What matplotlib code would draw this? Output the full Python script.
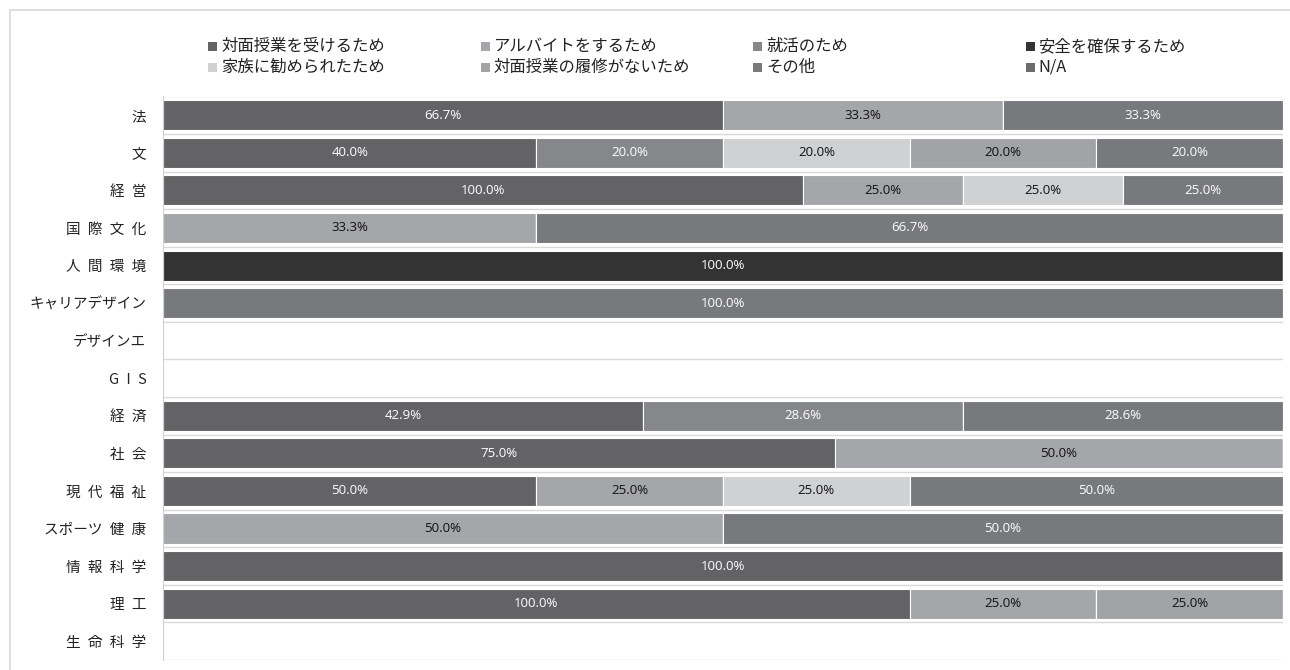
import numpy as np
import matplotlib.pyplot as plt
from matplotlib.patches import Rectangle

plt.rcParams['font.family'] = ['Noto Sans CJK JP', 'DejaVu Sans']

# 学部
faculties = ['法', '文', '経営', '国際文化', '人間環境', 'キャリアデザイン', 'デザインエ', 'GIS',
             '経済', '社会', '現代福祉', 'スポーツ健康', '情報科学', '理工', '生命科学']

# 理由 (凡例順)
reasons = ['対面授業を受けるため', 'アルバイトをするため', '就活のため', '安全を確保するため',
           '家族に勧められたため', '対面授業の履修がないため', 'その他', 'N/A']

# 各理由の割合 (%) 学部順
face_to_face = [66.7, 40.0, 100.0, 0, 0, 0, 0, 0, 42.9, 75.0, 50.0, 0, 100.0, 100.0, 0]
part_time    = [33.3, 0, 25.0, 33.3, 0, 0, 0, 0, 0, 50.0, 25.0, 50.0, 0, 25.0, 0]
job_hunting  = [0, 20.0, 0, 0, 0, 0, 0, 0, 28.6, 0, 0, 0, 0, 0, 0]
safety       = [0, 0, 0, 0, 100.0, 0, 0, 0, 0, 0, 0, 0, 0, 0, 0]
family       = [0, 20.0, 25.0, 0, 0, 0, 0, 0, 0, 0, 25.0, 0, 0, 0, 0]
no_classes   = [0, 20.0, 0, 0, 0, 0, 0, 0, 0, 0, 0, 0, 0, 25.0, 0]
other        = [33.3, 20.0, 25.0, 66.7, 0, 100.0, 0, 0, 28.6, 0, 50.0, 50.0, 0, 0, 0]
na           = [0, 0, 0, 0, 0, 0, 0, 0, 0, 0, 0, 0, 0, 0, 0]

series = [face_to_face, part_time, job_hunting, safety, family, no_classes, other, na]
colors = ['#636366', '#a5a6a9', '#86878a', '#333333', '#d0d1d3', '#a2a3a6', '#78797c', '#6c6c6f']
label_colors = ['white', '#111111', 'white', 'white', '#111111', '#111111', 'white', 'white']

data = np.array(series, dtype=float)
totals = data.sum(axis=0)
share = np.divide(data, totals, out=np.zeros_like(data), where=totals > 0)


def is_kana(c):
    return '\u30a0' <= c <= '\u30ff'


def spaced(label):
    # 漢字・英字の間だけ字間をあける
    out = label[0]
    for a, b in zip(label, label[1:]):
        if not (is_kana(a) and is_kana(b)):
            out += '\u2002'
        out += b
    return out


fig = plt.figure(figsize=(12.9, 6.7), dpi=100)
ax = fig.add_axes([163 / 1290, 1 - 660 / 670, 1120 / 1290, 563.5 / 670])

y = np.arange(len(faculties))
left = np.zeros(len(faculties))
for i in range(len(series)):
    bars = ax.barh(y, share[i], left=left, height=0.8, color=colors[i],
                   edgecolor='white', linewidth=0.8, zorder=2)
    for j, b in enumerate(bars):
        if data[i, j] > 0:
            ax.text(left[j] + share[i, j] / 2, y[j], f'{data[i, j]:.1f}%',
                    ha='center', va='center', fontsize=9.5, color=label_colors[i],
                    family=['Open Sans', 'DejaVu Sans'], zorder=3)
    left += share[i]

ax.set_xlim(0, 1)
ax.set_ylim(len(faculties) - 0.5, -0.5)
ax.set_yticks(y)
ax.set_yticklabels([spaced(f) for f in faculties], fontsize=10.5, color='#222222')
ax.set_xticks([])
ax.tick_params(axis='y', length=0, pad=12)
ax.set_yticks(np.arange(len(faculties) + 1) - 0.5, minor=True)
ax.tick_params(axis='y', which='minor', length=0)
ax.grid(axis='y', which='minor', color='#d9d9d9', linewidth=1, zorder=1)
for s in ['top', 'right', 'bottom']:
    ax.spines[s].set_visible(False)
ax.spines['left'].set_color('#d0d0d0')

# 凡例 (4列×2行)
for k, name in enumerate(reasons):
    col, row = k % 4, k // 4
    x0 = (208 + col * 272.5) / 1290
    y0 = 1 - (46.5 + row * 21) / 670
    fig.patches.append(Rectangle((x0, y0 - 4.5 / 670), 9 / 1290, 9 / 670,
                                 transform=fig.transFigure, facecolor=colors[k],
                                 edgecolor='none'))
    fig.text(x0 + 13 / 1290, y0, name, fontsize=11.8, va='center', ha='left',
             color='#222222')

# 外枠
fig.patches.append(Rectangle((10 / 1290, -0.05), 1.05, 660 / 670 + 0.05, transform=fig.transFigure,
                             facecolor='none', edgecolor='#d9d9d9', linewidth=1.2))

fig.savefig('out.png', dpi=100)
